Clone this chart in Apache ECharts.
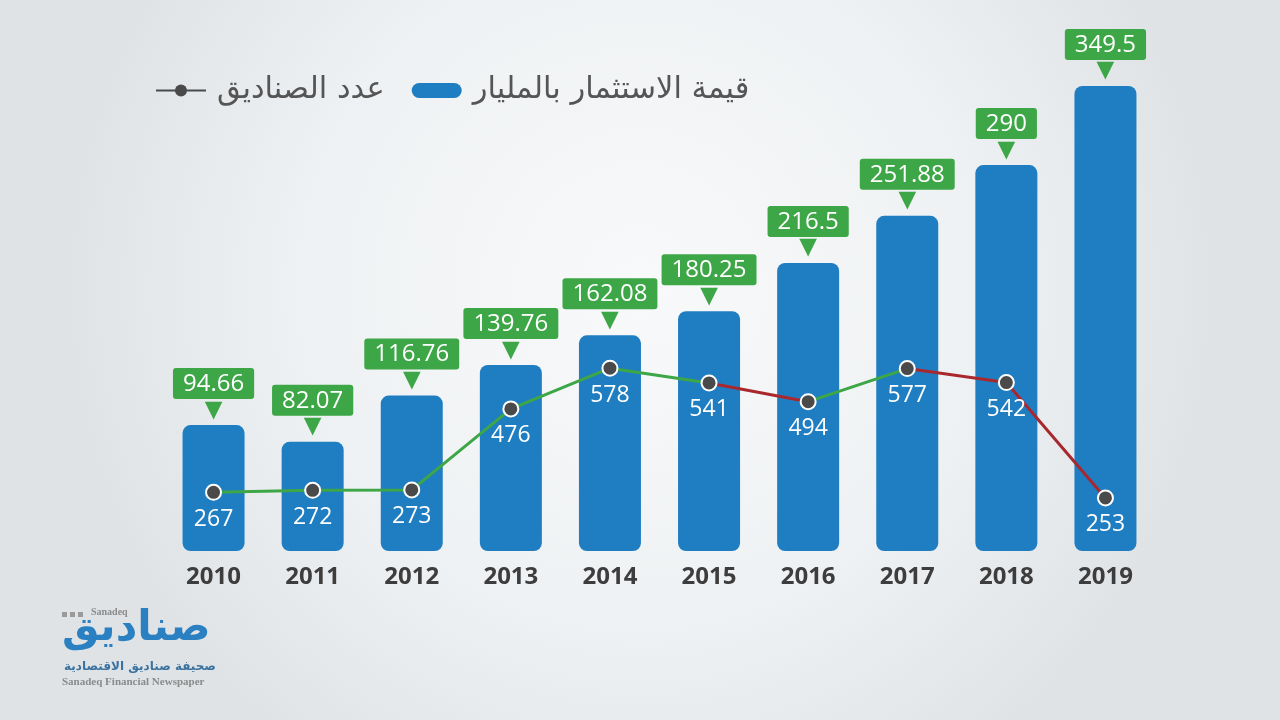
<!DOCTYPE html>
<html>
<head>
<meta charset="utf-8">
<script src="https://cdn.jsdelivr.net/npm/echarts@6/dist/echarts.min.js"></script>
<style>
  html, body { margin: 0; padding: 0; }
  #main { width: 1280px; height: 720px; }
</style>
</head>
<body>
<div id="main"></div>
<script>
// ====================== data ======================
const years = ['2010', '2011', '2012', '2013', '2014', '2015', '2016', '2017', '2018', '2019']
const investValues = [94.66, 82.07, 116.76, 139.76, 162.08, 180.25, 216.5, 251.88, 290, 349.5]
const fundCounts = [267, 272, 273, 476, 578, 541, 494, 577, 542, 253]
const investName = 'قيمة الاستثمار بالمليار'
const fundsName = 'عدد الصناديق'

const green = '#3da646'
const red = '#a8282d'
const blue = '#1f7dc1'

const chart = echarts.init(document.getElementById('main'))

chart.setOption({
	backgroundColor: {
		type: 'radial', x: 0.5, y: 0.4, r: 0.8,
		colorStops: [
			{ offset: 0, color: '#f8f9fa' },
			{ offset: 0.6, color: '#eef1f3' },
			{ offset: 1, color: '#dfe3e6' }
		]
	},
	textStyle: { fontFamily: 'Open Sans' },
	legend: {
		left: 150, top: 70,
		itemWidth: 50, itemHeight: 15, itemGap: 27,
		textStyle: { fontFamily: 'DejaVu Sans', fontSize: 30.5, color: '#555', padding: [0, 0, 0, 6] },
		data: [
			{ name: fundsName, itemStyle: { color: '#4a4a4a' }, lineStyle: { color: '#4a4a4a', width: 2 } },
			{ name: investName, icon: 'path://M7.5,0H42.5A7.5,7.5,0,0,1,42.5,15H7.5A7.5,7.5,0,0,1,7.5,0Z', itemStyle: { color: blue } }
		]
	},
	grid: { left: 164, right: 125, top: 40, bottom: 169 },
	xAxis: {
		type: 'category',
		data: years,
		axisLine: { show: false },
		axisTick: { show: false },
		axisLabel: { margin: 14, fontSize: 24, fontWeight: 'bold', color: '#3d3d3d' }
	},
	yAxis: [
		{ type: 'value', min: 0, max: 384, show: false },
		{ type: 'value', min: 120, max: 1400, show: false }
	],
	visualMap: {
		show: false,
		type: 'piecewise',
		dimension: 0,
		seriesIndex: 1,
		pieces: [
			{ lte: 5, color: green },
			{ gt: 5, lte: 6, color: red },
			{ gt: 6, lte: 7, color: green },
			{ gt: 7, color: red }
		]
	},
	series: [
		{
			name: investName,
			type: 'bar',
			barWidth: 62,
			data: investValues,
			itemStyle: { color: blue, borderRadius: 8 },
			label: {
				show: true,
				position: 'top',
				distance: 4,
				formatter: p => '{b|' + p.value + '}\n{a|▼}',
				rich: {
					b: {
						backgroundColor: green, color: '#fff', fontSize: 24,
						padding: [4, 10, 3, 10], borderRadius: 3, align: 'center'
					},
					a: { color: green, fontSize: 30, lineHeight: 22, align: 'center' }
				}
			}
		},
		{
			name: fundsName,
			type: 'line',
			yAxisIndex: 1,
			data: fundCounts,
			symbol: 'circle',
			symbolSize: 10,
			showSymbol: false,
			lineStyle: { width: 3 },
			z: 3
		},
		{
			name: fundsName,
			type: 'scatter',
			yAxisIndex: 1,
			data: fundCounts,
			symbolSize: 15,
			itemStyle: { color: '#4a4a4a', borderColor: '#fff', borderWidth: 2, opacity: 1 },
			label: {
				show: true,
				position: 'bottom',
				distance: 7,
				color: '#fff',
				fontSize: 23
			},
			z: 4
		}
	],
	graphic: [
		{ type: 'rect', left: 62, top: 612, shape: { width: 5, height: 5 }, style: { fill: '#9a9a9a' } },
		{ type: 'rect', left: 70, top: 612, shape: { width: 5, height: 5 }, style: { fill: '#9a9a9a' } },
		{ type: 'rect', left: 78, top: 612, shape: { width: 5, height: 5 }, style: { fill: '#9a9a9a' } },
		{ type: 'text', left: 91, top: 607, style: { text: 'Sanadeq', fill: '#8a8a8a', font: 'bold 10px "Liberation Serif"' } },
		{ type: 'text', left: 62, top: 608, style: { text: 'صناديق', fill: '#2a80c0', font: 'bold 42px "DejaVu Sans"' } },
		{ type: 'text', left: 64, top: 661, style: { text: 'صحيفة صناديق الاقتصادية', fill: '#3a72a0', font: 'bold 12px "DejaVu Sans"' } },
		{ type: 'text', left: 62, top: 677, style: { text: 'Sanadeq Financial Newspaper', fill: '#8a8a8a', font: 'bold 11px "Liberation Serif"' } }
	]
})
</script>
</body>
</html>
